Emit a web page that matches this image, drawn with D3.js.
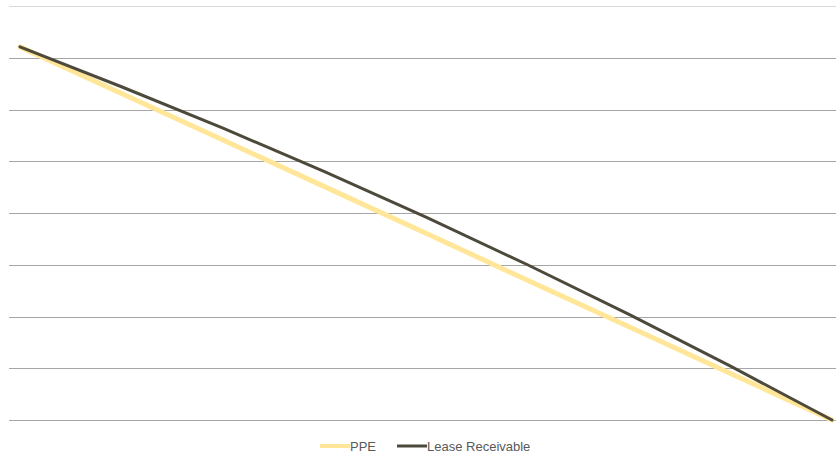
<!DOCTYPE html>
<html>
<head>
<meta charset="utf-8">
<script src="https://cdn.jsdelivr.net/npm/d3@7"></script>
<style>
  html, body { margin: 0; padding: 0; background: #ffffff; }
  svg { display: block; }
</style>
</head>
<body>
<svg id="chart" width="836" height="456"></svg>
<script>
// Carrying amounts by period (thousands)
const periods = [0, 1, 2, 3, 4, 5, 6, 7, 8];
const ppe = [721, 631, 541, 451, 361, 270, 180, 90, 0];
const leaseReceivable = [721, 644, 564, 480, 392, 300, 204, 104, 0];
const yTicks = [0, 100, 200, 300, 400, 500, 600, 700, 800];

const seriesNames = ["PPE", "Lease Receivable"];
const seriesColors = ["#ffe699", "#4d4a3b"];
const seriesWidths = [5, 3];

const svg = d3.select("#chart");
const plot = { left: 9, right: 836, top: 6, bottom: 420 };

const x = d3.scalePoint().domain(periods).range([20, 832]);
const y = d3.scaleLinear().domain([0, 800]).range([plot.bottom, plot.top]);

// Horizontal gridlines
const yAxis = d3.axisLeft(y).tickValues(yTicks).tickSize(-(plot.right - plot.left)).tickFormat("");
const gAxis = svg.append("g")
  .attr("transform", `translate(${plot.left},0)`)
  .call(yAxis);
gAxis.select(".domain").remove();
gAxis.selectAll(".tick line")
  .attr("stroke", d => d === 800 ? "#d9d9d9" : "#a6a6a6")
  .attr("stroke-width", d => d === 800 ? 1.5 : 1)
  .attr("shape-rendering", "crispEdges");

// Series lines
const data = [ppe, leaseReceivable];
const line = d3.line()
  .x((d, i) => x(periods[i]))
  .y(d => y(d));

svg.append("g").selectAll("path")
  .data(data)
  .join("path")
  .attr("fill", "none")
  .attr("stroke", (d, i) => seriesColors[i])
  .attr("stroke-width", (d, i) => seriesWidths[i])
  .attr("stroke-linejoin", "round")
  .attr("stroke-linecap", "round")
  .attr("d", line);

// Legend
const legendItems = [
  { name: seriesNames[0], color: seriesColors[0], w: 4, x: 320 },
  { name: seriesNames[1], color: seriesColors[1], w: 3, x: 397 }
];
const lg = svg.append("g").attr("font-family", "Liberation Sans, Arial, sans-serif")
  .attr("font-size", 13).attr("fill", "#595959");
legendItems.forEach(it => {
  lg.append("line")
    .attr("x1", it.x).attr("x2", it.x + 30)
    .attr("y1", 446).attr("y2", 446)
    .attr("stroke", it.color).attr("stroke-width", it.w);
  lg.append("text")
    .attr("x", it.x + 30).attr("y", 451)
    .text(it.name);
});
</script>
</body>
</html>
